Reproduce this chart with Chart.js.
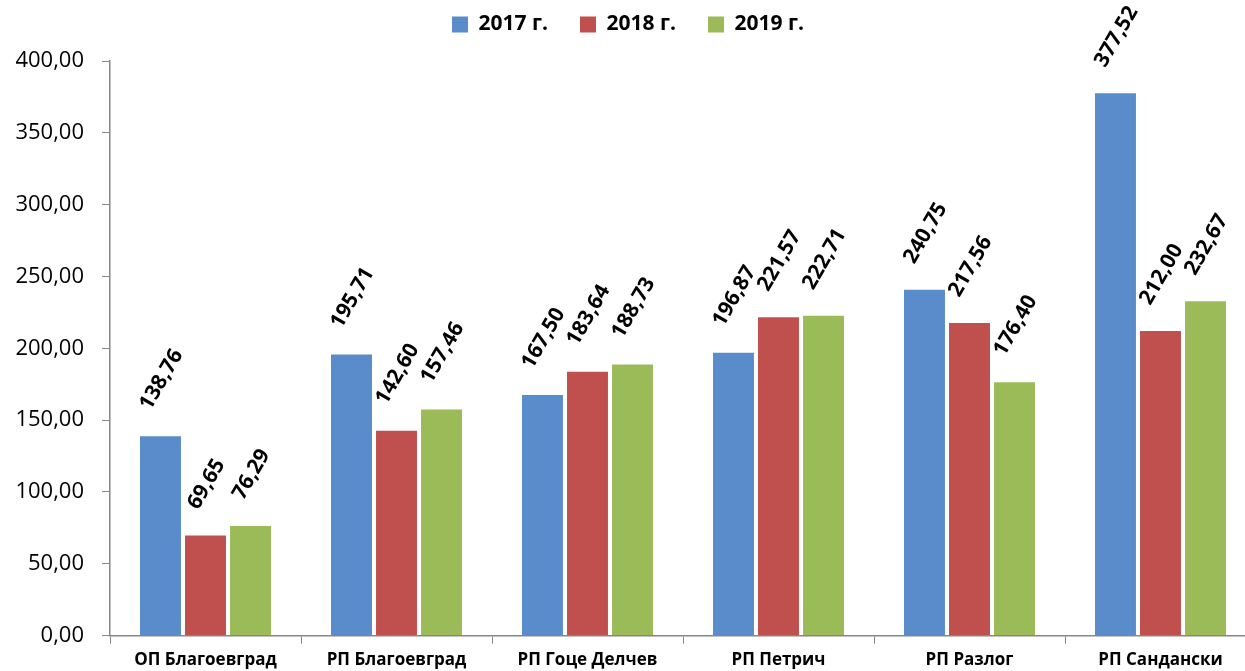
<!DOCTYPE html>
<html>
<head>
<meta charset="utf-8">
<script src="https://cdn.jsdelivr.net/npm/chart.js@4"></script>
<style>
  html, body { margin: 0; padding: 0; background: #fff; overflow: hidden; }
  #wrap { position: relative; width: 1256px; height: 676px; }
</style>
</head>
<body>
<div id="wrap"><canvas id="chart"></canvas></div>
<script>
// категории и стойности
const categories = ['ОП Благоевград', 'РП Благоевград', 'РП Гоце Делчев', 'РП Петрич', 'РП Разлог', 'РП Сандански'];
const seriesNames = ['2017 г.', '2018 г.', '2019 г.'];
const values2017 = [138.76, 195.71, 167.50, 196.87, 240.75, 377.52];
const values2018 = [69.65, 142.60, 183.64, 221.57, 217.56, 212.00];
const values2019 = [76.29, 157.46, 188.73, 222.71, 176.40, 232.67];
const yTicks = [0, 50, 100, 150, 200, 250, 300, 350, 400];

const colors = ['#5A8BCB', '#C0504D', '#9BBB59'];
const FONT = "'Open Sans', 'DejaVu Sans', sans-serif";

const fmt = v => v.toFixed(2).replace('.', ',');

// легендата по-нагоре, без да мести графиката
const legendShift = {
    id: 'legendShift',
    afterLayout(chart) {
        if (!chart.legend) return;
        chart.legend.top -= 16;
        chart.legend.bottom -= 16;
    }
};

// надписи над стълбовете, завъртени
const barLabels = {
    id: 'barLabels',
    afterDatasetsDraw(chart) {
        const ctx = chart.ctx;
        ctx.save();
        ctx.font = 'bold 21px ' + FONT;
        ctx.fillStyle = '#000';
        ctx.textAlign = 'center';
        ctx.textBaseline = 'middle';
        const ang = -60 * Math.PI / 180;
        chart.data.datasets.forEach((ds, di) => {
            const meta = chart.getDatasetMeta(di);
            meta.data.forEach((bar, i) => {
                const txt = fmt(ds.data[i]);
                const w = ctx.measureText(txt).width;
                const cx = bar.x + 1;
                const cy = bar.y - 28 - w * 0.433;
                ctx.save();
                ctx.translate(cx, cy);
                ctx.rotate(ang);
                ctx.fillText(txt, 0, 0);
                ctx.restore();
            });
        });
        ctx.restore();
    }
};

const datasets = [values2017, values2018, values2019].map((vals, i) => ({
    label: seriesNames[i],
    data: vals,
    backgroundColor: colors[i],
    borderWidth: 0,
    categoryPercentage: 0.707,
    barPercentage: 0.91
}));

new Chart(document.getElementById('chart'), {
    type: 'bar',
    data: { labels: categories, datasets },
    plugins: [barLabels, legendShift],
    options: {
        responsive: true,
        maintainAspectRatio: false,
        animation: false,
        layout: { padding: { top: -2, left: 0, right: 0, bottom: 0 } },
        plugins: {
            tooltip: { enabled: false },
            legend: {
                position: 'top',
                labels: {
                    color: '#000',
                    font: { family: FONT, size: 21, weight: 'bold' },
                    boxWidth: 16,
                    boxHeight: 16,
                    padding: 32
                }
            }
        },
        scales: {
            x: {
                grid: { drawOnChartArea: false, drawTicks: true, tickLength: 8, color: '#868686', offset: true },
                border: { color: '#868686', width: 1.5 },
                ticks: { color: '#000', font: { family: FONT, size: 17, weight: 'bold' }, padding: 6, maxRotation: 0, autoSkip: false }
            },
            y: {
                min: 0,
                max: 400,
                afterBuildTicks: axis => { axis.ticks = yTicks.map(v => ({ value: v })); },
                afterFit: axis => { axis.width = 110; },
                grid: { drawOnChartArea: false, drawTicks: true, tickLength: 8, color: '#868686' },
                border: { color: '#868686', width: 1.5 },
                ticks: { color: '#000', font: { family: FONT, size: 22 }, padding: 18, callback: v => fmt(v) }
            }
        }
    }
});
</script>
</body>
</html>
